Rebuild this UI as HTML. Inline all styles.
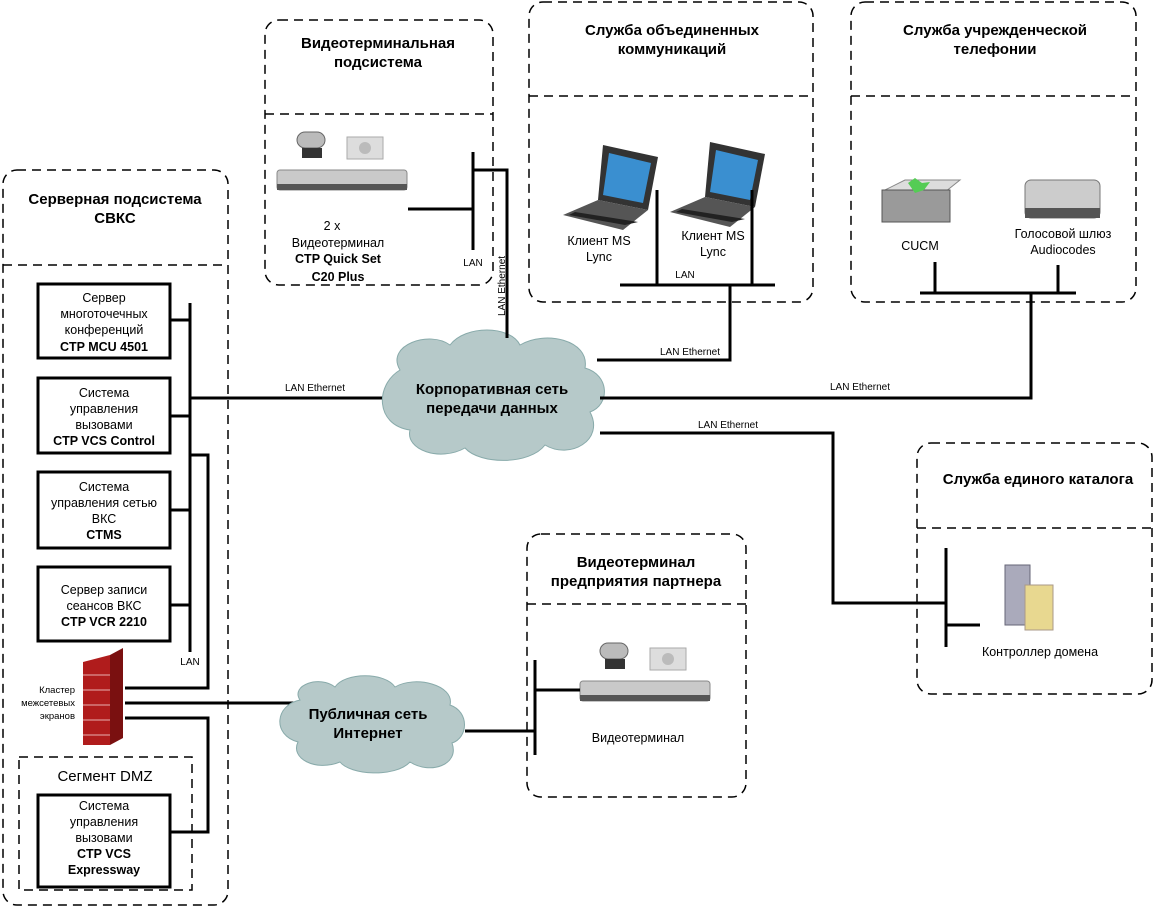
<!DOCTYPE html>
<html><head><meta charset="utf-8"><style>
html,body{margin:0;padding:0;background:#fff;}
svg{display:block;font-family:"Liberation Sans",Arial,sans-serif;}
.d{fill:none;stroke:#000;stroke-width:1.5;stroke-dasharray:9 6;}
.l{fill:none;stroke:#000;stroke-width:3;}
.b{fill:#fff;stroke:#000;stroke-width:3;}
.t{font-size:12.5px;text-anchor:middle;}
.h{font-size:15px;font-weight:bold;text-anchor:middle;}
.s{font-size:10px;text-anchor:middle;}
</style></head><body>
<svg width="1157" height="909" viewBox="0 0 1157 909">
<defs>
<g id="vt">
 <rect x="0" y="38" width="130" height="20" rx="3" fill="#c9c9c9" stroke="#888"/>
 <rect x="0" y="52" width="130" height="6" fill="#555"/>
 <rect x="20" y="0" width="28" height="16" rx="8" fill="#bbb" stroke="#666"/>
 <rect x="25" y="16" width="20" height="10" fill="#333"/>
 <rect x="70" y="5" width="36" height="22" fill="#ddd" stroke="#aaa"/>
 <circle cx="88" cy="16" r="6" fill="#bbb"/>
</g>
<g id="lap">
 <polygon points="40,0 95,12 85,65 35,55" fill="#333"/>
 <polygon points="46,8 88,18 80,58 40,50" fill="#3a8fd0"/>
 <polygon points="35,55 85,65 60,85 0,70" fill="#555"/>
 <polygon points="12,67 75,77 62,80 6,70" fill="#222"/>
</g>
</defs>

<!-- dashed containers -->
<rect class="d" x="3" y="170" width="225" height="735" rx="14"/>
<line class="d" x1="3" y1="265" x2="228" y2="265"/>
<rect class="d" x="265" y="20" width="228" height="265" rx="14"/>
<line class="d" x1="265" y1="114" x2="493" y2="114"/>
<rect class="d" x="529" y="2" width="284" height="300" rx="14"/>
<line class="d" x1="529" y1="96" x2="813" y2="96"/>
<rect class="d" x="851" y="2" width="285" height="300" rx="14"/>
<line class="d" x1="851" y1="96" x2="1136" y2="96"/>
<rect class="d" x="917" y="443" width="235" height="251" rx="14"/>
<line class="d" x1="917" y1="528" x2="1152" y2="528"/>
<rect class="d" x="527" y="534" width="219" height="263" rx="14"/>
<line class="d" x1="527" y1="604" x2="746" y2="604"/>

<!-- headers -->
<text class="h" x="115" y="204">Серверная подсистема</text>
<text class="h" x="115" y="223">СВКС</text>
<text class="h" x="378" y="48">Видеотерминальная</text>
<text class="h" x="378" y="67">подсистема</text>
<text class="h" x="672" y="35">Служба объединенных</text>
<text class="h" x="672" y="54">коммуникаций</text>
<text class="h" x="995" y="35">Служба учрежденческой</text>
<text class="h" x="995" y="54">телефонии</text>
<text class="h" x="1038" y="484">Служба единого каталога</text>
<text class="h" x="636" y="567">Видеотерминал</text>
<text class="h" x="636" y="586">предприятия партнера</text>

<!-- server boxes -->
<rect class="b" x="38" y="284" width="132" height="74"/>
<text class="t" x="104" y="302">Сервер</text><text class="t" x="104" y="318">многоточечных</text><text class="t" x="104" y="334">конференций</text><text class="t" x="104" y="351" font-weight="bold">CTP MCU 4501</text>
<rect class="b" x="38" y="378" width="132" height="75"/>
<text class="t" x="104" y="397">Система</text><text class="t" x="104" y="413">управления</text><text class="t" x="104" y="429">вызовами</text><text class="t" x="104" y="445" font-weight="bold">CTP VCS Control</text>
<rect class="b" x="38" y="472" width="132" height="76"/>
<text class="t" x="104" y="491">Система</text><text class="t" x="104" y="507">управления сетью</text><text class="t" x="104" y="523">ВКС</text><text class="t" x="104" y="539" font-weight="bold">CTMS</text>
<rect class="b" x="38" y="567" width="132" height="74"/>
<text class="t" x="104" y="594">Сервер записи</text><text class="t" x="104" y="610">сеансов ВКС</text><text class="t" x="104" y="626" font-weight="bold">CTP VCR 2210</text>

<!-- DMZ -->
<rect class="d" x="19" y="757" width="173" height="133"/>
<text x="105" y="781" text-anchor="middle" font-size="15">Сегмент DMZ</text>
<rect class="b" x="38" y="795" width="132" height="92"/>
<text class="t" x="104" y="810">Система</text><text class="t" x="104" y="826">управления</text><text class="t" x="104" y="842">вызовами</text><text class="t" x="104" y="858" font-weight="bold">CTP VCS</text><text class="t" x="104" y="874" font-weight="bold">Expressway</text>

<!-- firewall -->
<polygon points="83,662 110,655 110,745 83,745" fill="#b01c1c"/>
<polygon points="110,655 123,648 123,738 110,745" fill="#7a1010"/>
<g stroke="#e8b0b0" stroke-width="1"><line x1="83" y1="675" x2="110" y2="675"/><line x1="83" y1="690" x2="110" y2="690"/><line x1="83" y1="705" x2="110" y2="705"/><line x1="83" y1="720" x2="110" y2="720"/><line x1="83" y1="735" x2="110" y2="735"/></g>
<text x="75" y="693" font-size="9.5" text-anchor="end">Кластер</text>
<text x="75" y="706" font-size="9.5" text-anchor="end">межсетевых</text>
<text x="75" y="719" font-size="9.5" text-anchor="end">экранов</text>

<!-- server wiring -->
<path class="l" d="M190 303V652 M170 320H190 M170 416H190 M170 510H190 M170 605H190 M190 398H385 M190 455H208V688H125 M125 703H300 M125 718H208V832H170"/>
<text class="s" x="190" y="665">LAN</text>
<text class="s" x="315" y="391">LAN Ethernet</text>

<!-- clouds -->
<g fill="#b6c9c9" stroke="#8aa">
<path d="M400 370 C385 345 430 330 450 345 C465 325 510 325 520 345 C545 330 590 340 585 368 C610 375 610 405 590 412 C605 440 570 460 545 445 C530 465 480 465 465 448 C440 462 405 450 410 430 C375 425 375 385 400 370Z"/>
<path d="M300 700 C290 685 320 675 335 687 C345 672 385 672 395 687 C415 675 455 685 450 705 C470 712 468 738 452 743 C460 765 430 775 410 762 C395 778 350 775 340 762 C315 772 290 758 298 742 C272 735 275 705 300 700Z"/>
</g>
<text class="h" x="492" y="394">Корпоративная сеть</text>
<text class="h" x="492" y="413">передачи данных</text>
<text class="h" x="368" y="719">Публичная сеть</text>
<text class="h" x="368" y="738">Интернет</text>

<!-- video terminal subsystem -->
<use href="#vt" x="277" y="132"/>
<text class="t" x="332" y="230">2 x</text>
<text class="t" x="338" y="247">Видеотерминал</text>
<text class="t" x="338" y="263" font-weight="bold">CTP Quick Set</text>
<text class="t" x="338" y="281" font-weight="bold">C20 Plus</text>
<path class="l" d="M473 152V250 M408 209H473 M473 170H507V338"/>
<text class="s" x="473" y="266">LAN</text>
<text x="0" y="0" font-size="10" transform="translate(505,316) rotate(-90)">LAN Ethernet</text>

<!-- UC -->
<use href="#lap" x="563" y="145"/>
<use href="#lap" x="670" y="142"/>
<text class="t" x="599" y="245">Клиент MS</text><text class="t" x="599" y="261">Lync</text>
<text class="t" x="713" y="240">Клиент MS</text><text class="t" x="713" y="256">Lync</text>
<path class="l" d="M620 285H775 M657 190V285 M752 190V285 M730 285V360H597"/>
<text class="s" x="685" y="278">LAN</text>
<text class="s" x="690" y="355">LAN Ethernet</text>

<!-- telephony -->
<polygon points="885,190 905,180 960,180 945,192" fill="#ddd" stroke="#888"/>
<rect x="882" y="190" width="68" height="32" fill="#9a9a9a" stroke="#555"/>
<polygon points="908,183 915,178 922,183 930,182 924,190 915,193" fill="#5c5"/>
<rect x="1025" y="180" width="75" height="38" rx="6" fill="#ccc" stroke="#777"/>
<rect x="1025" y="208" width="75" height="10" fill="#555"/>
<text class="t" x="920" y="250">CUCM</text>
<text class="t" x="1063" y="238">Голосовой шлюз</text>
<text class="t" x="1063" y="254">Audiocodes</text>
<path class="l" d="M920 293H1076 M935 262V293 M1058 265V293 M1031 293V398H600"/>
<text class="s" x="860" y="390">LAN Ethernet</text>

<!-- catalog -->
<path class="l" d="M600 433H833V603H946 M946 548V647 M946 625H980"/>
<text class="s" x="728" y="428">LAN Ethernet</text>
<rect x="1005" y="565" width="25" height="60" fill="#aab" stroke="#667"/>
<rect x="1025" y="585" width="28" height="45" fill="#e8d890" stroke="#a98"/>
<text class="t" x="1040" y="656">Контроллер домена</text>

<!-- partner -->
<use href="#vt" x="580" y="643"/>
<path class="l" d="M465 731H535 M535 660V755 M535 690H580"/>
<text class="t" x="638" y="742">Видеотерминал</text>
</svg>
</body></html>
